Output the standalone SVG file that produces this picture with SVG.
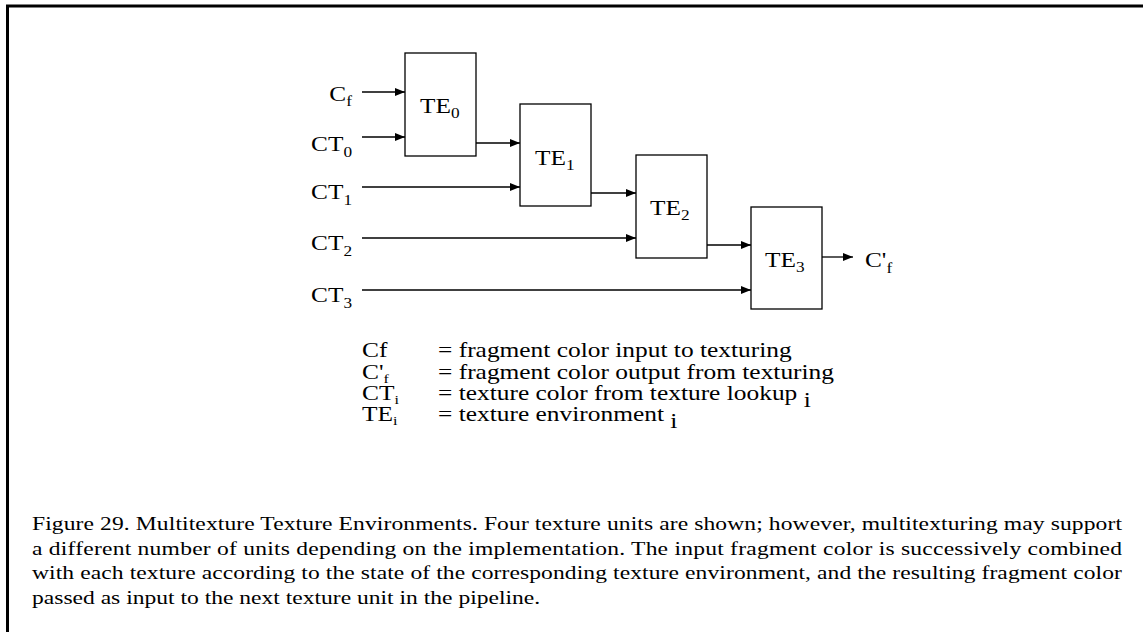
<svg xmlns="http://www.w3.org/2000/svg" width="1143" height="632" viewBox="0 0 1143 632">
<defs>
<marker id="ah" markerUnits="userSpaceOnUse" markerWidth="10" markerHeight="8" refX="10" refY="4" orient="auto">
<path d="M0,0 L10,4 L0,8 z" fill="#000"/>
</marker>
<style>
text{font-family:"Liberation Serif","Times New Roman",serif;fill:#000}
.lbl{font-size:22px}
.sub{font-size:15px}
.lg{font-size:20.5px}
.lsub{font-size:13px}
.cap{font-size:19px}
.box{fill:#fff;stroke:#000;stroke-width:1.3}
.wire{fill:none;stroke:#000;stroke-width:1.3;marker-end:url(#ah)}
</style>
</defs>
<rect width="1143" height="632" fill="#fff"/>
<path d="M7.5,632 V6 H1143" fill="none" stroke="#000" stroke-width="3"/>

<g id="connectors">
<line class="wire" x1="362" y1="92" x2="405" y2="92"/>
<line class="wire" x1="362" y1="137" x2="405" y2="137"/>
<line class="wire" x1="476" y1="143" x2="520" y2="143"/>
<line class="wire" x1="362" y1="187" x2="520" y2="187"/>
<line class="wire" x1="591" y1="193" x2="636" y2="193"/>
<line class="wire" x1="362" y1="238" x2="636" y2="238"/>
<line class="wire" x1="707" y1="245" x2="751" y2="245"/>
<line class="wire" x1="362" y1="290" x2="751" y2="290"/>
<line class="wire" x1="822" y1="257" x2="853" y2="257"/>
</g>

<g id="in-Cf"><text class="lbl" text-anchor="end" transform="translate(352,101) scale(1.15,1)">C<tspan class="sub" dy="5">f</tspan></text></g>
<g id="in-CT0"><text class="lbl" text-anchor="end" transform="translate(352,151) scale(1.15,1)">CT<tspan class="sub" dy="6">0</tspan></text></g>
<g id="in-CT1"><text class="lbl" text-anchor="end" transform="translate(352,199) scale(1.15,1)">CT<tspan class="sub" dy="6">1</tspan></text></g>
<g id="in-CT2"><text class="lbl" text-anchor="end" transform="translate(352,250) scale(1.15,1)">CT<tspan class="sub" dy="6">2</tspan></text></g>
<g id="in-CT3"><text class="lbl" text-anchor="end" transform="translate(352,302) scale(1.15,1)">CT<tspan class="sub" dy="6">3</tspan></text></g>

<g id="TE0"><rect class="box" x="405" y="53" width="71" height="103"/><text class="lbl" transform="translate(420,113) scale(1.15,1)">TE<tspan class="sub" dy="5">0</tspan></text></g>
<g id="TE1"><rect class="box" x="520" y="104" width="71" height="102"/><text class="lbl" transform="translate(535,165) scale(1.15,1)">TE<tspan class="sub" dy="5">1</tspan></text></g>
<g id="TE2"><rect class="box" x="636" y="155" width="71" height="103"/><text class="lbl" transform="translate(650,215) scale(1.15,1)">TE<tspan class="sub" dy="5">2</tspan></text></g>
<g id="TE3"><rect class="box" x="751" y="207" width="71" height="102"/><text class="lbl" transform="translate(765,267) scale(1.15,1)">TE<tspan class="sub" dy="5">3</tspan></text></g>

<g id="out-Cf"><text class="lbl" transform="translate(865,267) scale(1.15,1)">C'<tspan class="sub" dy="6">f</tspan></text></g>

<g id="legend">
<text class="lg" transform="translate(362,357) scale(1.24,1)">Cf</text>
<text class="lg" transform="translate(362,378.5) scale(1.24,1)">C'<tspan class="lsub" dy="4">f</tspan></text>
<text class="lg" transform="translate(362,400) scale(1.24,1)">CT<tspan class="lsub" dy="4">i</tspan></text>
<text class="lg" transform="translate(362,421) scale(1.24,1)">TE<tspan class="lsub" dy="4">i</tspan></text>
<text class="lg" transform="translate(438,357) scale(1.24,1)">= fragment color input to texturing</text>
<text class="lg" transform="translate(438,378.5) scale(1.24,1)">= fragment color output from texturing</text>
<text class="lg" transform="translate(438,400) scale(1.24,1)">= texture color from texture lookup <tspan dy="7">i</tspan></text>
<text class="lg" transform="translate(438,421) scale(1.24,1)">= texture environment <tspan dy="7">i</tspan></text>
</g>

<g id="caption">
<text class="cap" transform="translate(32,530) scale(1.24,1)" textLength="879" lengthAdjust="spacing">Figure 29. Multitexture Texture Environments. Four texture units are shown; however, multitexturing may support</text>
<text class="cap" transform="translate(32,554.5) scale(1.24,1)" textLength="879" lengthAdjust="spacing">a different number of units depending on the implementation. The input fragment color is successively combined</text>
<text class="cap" transform="translate(32,579) scale(1.24,1)" textLength="879" lengthAdjust="spacing">with each texture according to the state of the corresponding texture environment, and the resulting fragment color</text>
<text class="cap" transform="translate(32,603.5) scale(1.24,1)">passed as input to the next texture unit in the pipeline.</text>
</g>
</svg>
